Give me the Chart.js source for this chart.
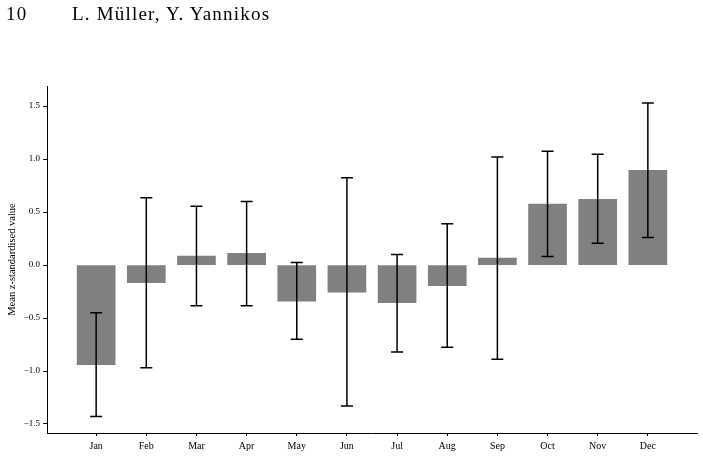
<!DOCTYPE html>
<html>
<head>
<meta charset="utf-8">
<script src="https://cdn.jsdelivr.net/npm/chart.js@4/dist/chart.umd.min.js"></script>
<style>
    body { margin: 0; background: #fff; }
    #wrap { position: relative; width: 703px; height: 457px; }
    #grafico { position: absolute; left: 0; top: 0; }
    .cabecalho { position: absolute; top: 4px; font-family: "Liberation Serif", serif; font-size: 19px; line-height: 19px; letter-spacing: 1.2px; color: #000; }
</style>
</head>
<body>
<div id="wrap">
    <canvas id="grafico" width="703" height="457"></canvas>
    <div class="cabecalho" style="left:6px">10</div>
    <div class="cabecalho" style="left:72px">L. Müller, Y. Yannikos</div>
</div>
<script>
// Dados
const meses = ['Jan', 'Feb', 'Mar', 'Apr', 'May', 'Jun', 'Jul', 'Aug', 'Sep', 'Oct', 'Nov', 'Dec'];
const medias = [-0.94, -0.165, 0.085, 0.11, -0.34, -0.255, -0.355, -0.195, 0.065, 0.575, 0.62, 0.895];
const erroInferior = [-1.43, -0.97, -0.385, -0.385, -0.70, -1.33, -0.82, -0.775, -0.89, 0.08, 0.205, 0.26];
const erroSuperior = [-0.45, 0.635, 0.555, 0.60, 0.025, 0.824, 0.10, 0.39, 1.02, 1.075, 1.045, 1.53];
const ticksY = [-1.5, -1.0, -0.5, 0.0, 0.5, 1.0, 1.5];

const fonte = '"Liberation Serif", "Times New Roman", serif';

// Barras de erro desenhadas sobre as barras
const pluginErros = {
    id: 'barrasErro',
    afterDatasetsDraw(chart) {
        const ctx = chart.ctx;
        const x = chart.scales.x;
        const y = chart.scales.y;
        ctx.save();
        ctx.strokeStyle = '#000';
        ctx.lineWidth = 1.5;
        meses.forEach((m, i) => {
            const px = x.getPixelForValue(i);
            const y1 = y.getPixelForValue(erroInferior[i]);
            const y2 = y.getPixelForValue(erroSuperior[i]);
            ctx.beginPath();
            ctx.moveTo(px, y1);
            ctx.lineTo(px, y2);
            ctx.moveTo(px - 6, y1);
            ctx.lineTo(px + 6, y1);
            ctx.moveTo(px - 6, y2);
            ctx.lineTo(px + 6, y2);
            ctx.stroke();
        });
        ctx.restore();
    }
};

new Chart(document.getElementById('grafico'), {
    type: 'bar',
    data: {
        datasets: [{
            data: medias.map((v, i) => ({ x: i, y: v })),
            backgroundColor: '#808080',
            borderWidth: 0,
            barThickness: 38
        }]
    },
    options: {
        responsive: false,
        animation: false,
        layout: { padding: { top: 86, right: 6, left: 0, bottom: 0 } },
        plugins: {
            legend: { display: false },
            tooltip: { enabled: false }
        },
        scales: {
            x: {
                type: 'linear',
                offset: false,
                min: -0.98,
                max: 11.98,
                afterBuildTicks: (scale) => { scale.ticks = meses.map((m, i) => ({ value: i })); },
                afterFit: (scale) => { scale.height = 24; },
                ticks: {
                    callback: (v) => meses[v],
                    color: '#000',
                    font: { family: fonte, size: 10 },
                    padding: 4,
                    maxRotation: 0,
                    autoSkip: false
                },
                grid: { drawOnChartArea: false, offset: false, tickLength: 3, color: '#000' },
                border: { color: '#000', width: 1 }
            },
            y: {
                min: -1.585,
                max: 1.69,
                afterBuildTicks: (scale) => { scale.ticks = ticksY.map(v => ({ value: v })); },
                afterFit: (scale) => { scale.width = 47; },
                ticks: {
                    callback: (v) => v.toFixed(1).replace('-', '\u2212'),
                    color: '#000',
                    font: { family: fonte, size: 9 },
                    padding: 3
                },
                grid: { drawOnChartArea: false, tickLength: 4, color: '#000' },
                border: { color: '#000', width: 1 },
                title: {
                    display: true,
                    text: 'Mean z-standardised value',
                    color: '#000',
                    font: { family: fonte, size: 10.5 },
                    padding: 6
                }
            }
        }
    },
    plugins: [pluginErros]
});
</script>
</body>
</html>
